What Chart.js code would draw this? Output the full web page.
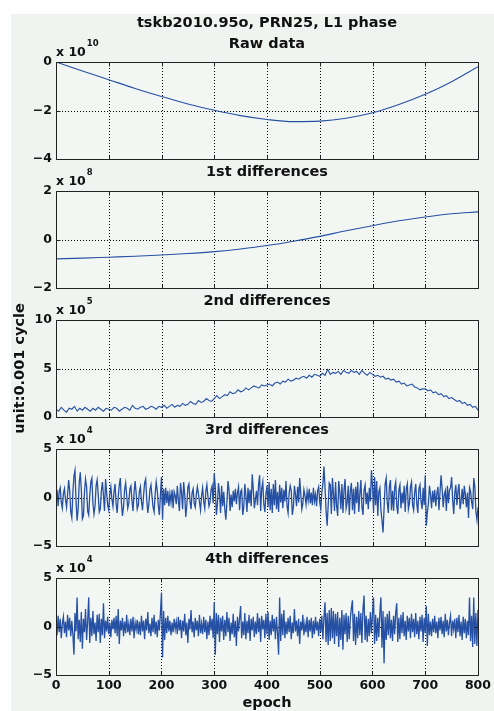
<!DOCTYPE html>
<html><head><meta charset="utf-8">
<script src="https://cdn.jsdelivr.net/npm/chart.js"></script>
<style>
html,body{margin:0;padding:0;background:#fff;width:494px;height:711px;overflow:hidden;}
#fig{position:absolute;left:11px;top:14px;width:483px;height:697px;background:#eff4f0;}
canvas{position:absolute;left:0;}
</style></head><body>
<div id="fig"></div>
<canvas id="c0"></canvas><canvas id="c1"></canvas><canvas id="c2"></canvas><canvas id="c3"></canvas><canvas id="c4"></canvas>
<script>
// ---------- data ----------
const epochTicks = [0,100,200,300,400,500,600,700,800];
const smoothEpochs = [0,50,100,150,200,250,300,350,400,450,500,550,600,650,700,750,800];
// Raw data, x 1e10
const rawData = [0,-0.37,-0.73,-1.09,-1.42,-1.73,-1.99,-2.21,-2.37,-2.46,-2.44,-2.32,-2.09,-1.75,-1.33,-0.81,-0.19];
// 1st differences, x 1e8
const diff1Data = [-0.80,-0.77,-0.73,-0.69,-0.64,-0.58,-0.50,-0.39,-0.25,-0.07,0.13,0.36,0.57,0.77,0.93,1.06,1.14];
// 2nd differences, x 1e5, one value every 5 epochs
const diff2Step = 5;
const diff2Data = [
0.8,0.6,1.0,0.7,0.5,0.9,0.8,1.1,0.6,0.9,0.7,1.0,0.8,0.6,0.9,0.7,1.0,0.8,0.6,0.9,
0.8,0.7,1.0,0.9,0.6,0.8,1.0,0.9,0.7,1.2,0.9,0.8,1.0,1.1,0.8,0.9,1.1,1.0,0.8,1.1,
1.0,1.2,0.9,1.1,1.3,1.0,1.2,1.1,1.4,1.2,1.3,1.6,1.4,1.3,1.7,1.5,1.6,1.9,1.7,1.6,
1.9,2.2,1.9,2.1,2.3,2.2,2.6,2.4,2.5,2.8,2.6,2.7,3.0,2.8,3.0,3.2,3.1,3.0,3.3,3.2,
3.3,3.4,3.2,3.5,3.6,3.4,3.7,3.6,3.9,3.7,3.8,4.0,3.9,4.1,4.2,4.0,4.3,4.1,4.4,4.3,
4.2,4.5,4.3,4.9,4.4,4.6,4.5,4.7,4.4,4.8,4.6,4.5,4.8,4.6,4.7,4.4,4.8,4.5,4.3,4.6,
4.4,4.2,4.3,4.1,4.2,3.9,4.0,3.8,3.9,3.6,3.7,3.4,3.5,3.2,3.3,3.4,3.1,3.0,2.8,2.9,
2.9,2.7,2.8,2.5,2.6,2.3,2.4,2.1,2.2,1.9,2.0,1.8,1.6,1.7,1.4,1.5,1.2,1.3,1.0,1.1,
0.7];
// 3rd and 4th differences, x 1e4, one value every 2 epochs
const noiseStep = 2;
const diff3Data = [
-0.3,0.8,-0.9,0.6,1.0,-0.5,-1.1,0.4,0.9,-0.2,-1.0,0.3,1.8,0.7,-1.5,-2.1,0.5,2.2,2.8,-0.4,
-2.4,-1.2,1.5,2.6,0.8,-2.2,-1.9,0.6,1.9,1.1,-1.4,-1.8,0.2,1.6,2.0,-0.6,-1.7,-0.9,1.2,1.8,
0.3,-1.5,-1.2,0.7,1.6,0.2,-1.4,1.9,0.5,-0.8,-1.3,0.4,1.1,-0.2,-0.9,0.6,1.4,-0.7,-1.6,0.1,
1.3,2.0,-0.5,-1.9,-1.0,0.8,1.5,0.2,-1.1,-0.6,0.9,1.2,-0.3,-1.4,0.5,1.7,0.4,-1.2,-0.8,0.6,
1.1,-0.4,-1.3,0.2,1.5,1.9,-0.2,-1.6,-0.7,0.8,1.3,0.1,-1.0,-1.5,0.4,1.6,0.7,-0.9,-1.8,0.3,
2.1,-2.3,0.9,-0.8,1.0,-0.6,0.7,-0.9,0.4,-0.5,0.8,-1.1,0.6,0.2,-0.7,1.2,-0.3,-1.4,1.5,0.5,
-1.2,1.6,0.3,-2.0,-0.8,1.1,1.4,-0.4,-1.2,0.5,0.9,-0.6,-1.0,0.3,1.1,0.4,-0.5,-1.3,0.2,1.0,
-0.4,-1.1,0.6,1.3,0.1,-0.9,-0.5,0.8,1.2,-0.6,2.5,1.0,-1.8,-0.7,1.5,0.4,-1.6,1.2,-0.9,0.6,
-1.2,-2.3,-0.5,1.7,0.8,-1.4,0.3,-1.0,0.7,-0.4,0.9,-0.7,0.5,1.1,-1.3,0.6,0.8,-1.8,-1.0,1.4,
0.2,-1.5,1.0,-0.6,0.8,-0.9,2.4,0.9,-1.1,-0.3,0.7,-0.8,1.3,2.3,-1.4,0.9,1.6,-0.7,-1.5,0.4,
1.2,-1.0,1.6,-1.3,0.9,-1.6,1.4,-0.8,1.8,-1.2,0.6,-1.5,1.3,-0.5,1.0,-1.1,0.8,-0.4,1.7,-0.9,
-1.6,0.5,1.2,0.7,-1.8,-1.0,1.2,0.3,-0.9,1.1,-0.5,2.0,0.4,-1.2,-0.6,0.8,0.2,-0.7,0.6,-0.3,
0.9,-0.6,0.5,-0.8,1.0,-0.4,0.3,-0.9,0.7,1.1,-0.5,-1.2,0.6,1.4,3.2,1.0,-1.4,-2.9,-0.8,1.5,
1.3,-1.7,2.0,0.4,-1.4,1.6,-0.9,-1.9,1.7,0.6,-1.2,1.4,-1.6,0.8,1.9,-1.1,-0.5,1.2,-1.8,0.7,
1.5,-1.3,0.9,-1.7,1.1,-0.6,1.6,-1.5,0.4,1.8,-1.0,-1.8,0.8,1.3,-0.7,0.5,-1.2,1.0,-0.4,2.8,
1.2,-1.5,2.1,-0.8,1.7,-1.9,0.6,1.0,-1.3,-2.4,-3.6,-1.0,1.4,2.0,-0.5,-1.6,1.1,1.8,-1.3,0.7,
-1.4,1.0,1.6,-0.9,-1.7,0.8,1.3,-1.1,0.5,-0.6,1.2,-1.5,0.9,1.4,-1.2,-0.6,1.1,1.6,-0.8,-1.3,
0.6,1.4,-0.7,-1.6,0.9,1.3,-0.4,-1.2,1.0,-0.8,2.3,-2.9,-1.5,-0.6,1.2,0.3,-1.1,0.7,-0.5,0.8,
-0.9,0.4,1.1,-1.3,0.6,2.3,0.9,-1.0,0.3,0.7,-1.4,1.2,-0.6,0.8,1.0,2.1,-0.3,-1.7,0.5,1.3,
-0.8,0.6,1.4,-1.2,-0.4,0.9,-0.7,1.2,0.3,-1.0,0.5,-2.1,1.0,0.6,-0.5,-1.2,2.0,1.1,-1.4,-2.3,
-1.0];
const diff4Data = [
0.4,-0.9,1.1,-0.6,0.8,-1.2,0.3,1.0,-0.7,0.5,-1.1,1.2,-0.4,0.9,-1.0,0.6,-0.8,-2.9,1.4,-0.5,
3.0,-1.3,0.7,-1.6,1.5,-2.3,0.8,-0.6,1.8,-1.4,0.5,3.0,-1.7,0.9,-1.0,1.6,-0.8,0.4,-1.5,1.2,
-0.6,1.3,-1.7,0.8,-0.9,2.4,-1.2,0.6,-0.5,1.0,-0.8,0.4,-1.1,0.7,-0.3,0.9,-0.7,1.1,-1.0,1.8,
-1.8,0.6,-0.4,0.9,-1.0,0.5,-0.7,1.2,-0.6,0.3,-0.9,0.8,-0.5,1.0,-1.2,0.4,-0.3,0.7,-0.8,0.5,
-0.9,1.1,-0.5,0.6,-1.3,0.8,-0.4,1.5,-0.7,0.3,-1.0,0.9,-0.6,1.2,-0.8,0.5,-1.1,0.7,-0.4,1.4,
3.5,-3.2,1.6,-1.4,0.9,-0.7,1.1,-0.5,0.6,-0.9,0.4,-0.6,0.8,-0.3,0.5,-0.8,1.0,-0.4,0.7,-1.2,
0.6,-0.5,1.3,-0.9,0.4,-1.7,0.8,-0.3,1.7,-0.6,0.5,-1.1,0.9,-0.4,0.6,-1.0,1.2,-0.7,0.3,-0.8,
1.0,-0.6,0.7,-1.3,0.5,-0.9,1.1,-0.4,0.8,-1.2,2.5,-2.9,1.4,-0.8,1.2,-1.6,0.9,-0.5,1.1,-1.4,
0.7,-1.0,1.5,-0.6,0.9,-1.5,0.4,-0.8,1.3,-1.1,0.6,-2.0,1.0,-0.5,0.8,2.1,-1.2,0.5,-0.9,1.4,
-1.3,0.6,-0.7,1.2,-1.5,0.8,-0.4,1.0,-1.1,0.5,-0.8,1.4,-0.6,0.9,-1.6,1.1,-0.3,0.7,-1.2,1.3,
-0.8,1.5,-1.4,0.6,-0.9,1.2,-0.5,0.8,-1.3,1.0,-0.6,-2.9,3.0,-1.5,1.3,-0.9,1.7,-1.2,0.5,-0.8,
0.9,-0.6,1.1,-1.3,0.4,-0.7,1.8,-0.5,0.6,-1.0,0.8,-1.8,0.5,-0.4,1.2,-0.9,0.3,-0.6,1.0,-1.1,
0.7,-0.5,0.9,-1.2,0.6,-0.8,1.0,-0.4,0.5,-1.0,0.8,-0.6,1.1,-1.3,0.9,2.5,-1.6,1.4,-1.9,1.7,
-1.5,1.9,-1.2,1.6,-1.8,1.3,-1.0,1.5,-2.1,0.9,-1.4,1.7,-2.4,1.2,-0.8,1.4,-1.6,1.1,-1.3,0.8,
1.9,2.7,-1.5,1.3,-1.9,1.0,-1.2,1.6,-0.9,1.4,-1.7,1.8,3.2,-1.4,1.1,-1.6,0.8,-1.0,1.5,-0.7,
1.3,3.0,-1.8,1.2,-1.5,0.9,-1.1,1.4,3.0,-2.2,1.6,-3.8,1.0,-1.4,1.3,-0.9,1.6,-1.2,0.7,-1.5,
1.1,-0.8,1.4,2.4,-1.6,0.9,-1.3,1.2,-0.7,1.5,-1.0,0.6,-1.4,1.1,-0.5,0.9,-1.2,1.3,-0.6,0.8,
-1.1,1.4,-0.8,0.6,-1.3,1.0,-0.5,1.2,-1.6,0.9,-0.7,2.1,-2.0,1.3,-0.9,0.5,-1.0,0.8,-0.6,1.1,
-0.7,0.5,-1.2,0.9,-0.4,1.0,-0.8,0.6,-1.1,1.3,-0.5,0.7,-0.9,0.4,1.1,-1.0,0.6,-0.3,0.8,-1.2,
0.9,-0.6,1.2,-1.0,0.5,-1.4,1.0,-0.7,0.8,-1.2,0.6,-0.9,3.0,-1.5,1.1,-2.1,3.0,-1.8,1.4,-2.0,
1.7];

const panelTitles = [['tskb2010.95o, PRN25, L1 phase','Raw data'],'1st differences','2nd differences','3rd differences','4th differences'];
const exponents = ['10','8','5','4','4'];
const yMins = [-4,-2,0,-5,-5];
const yMaxs = [0,2,10,5,5];
const ySteps = [2,2,5,5,5];
const yAxisLabel = 'unit:0.001 cycle';
const xAxisLabel = 'epoch';

// ---------- series ----------
const series = [
  rawData.map((v,i)=>({x:smoothEpochs[i],y:v})),
  diff1Data.map((v,i)=>({x:smoothEpochs[i],y:v})),
  diff2Data.map((v,i)=>({x:i*diff2Step,y:v})),
  diff3Data.map((v,i)=>({x:i*noiseStep,y:v})),
  diff4Data.map((v,i)=>({x:i*noiseStep,y:v}))
];

// ---------- layout ----------
const FONT = 'DejaVu Sans';
const INK = '#111';
const LINE = '#2650a3';
const PLOT_BG = '#f3f7f4';
const plotTops = [62,191,320,449,578];
const plotH = 97;
const headRoom = 62;
const lineWidths = [1.1,1.1,1.1,1.3,1.3];

Chart.defaults.font.family = FONT;
Chart.defaults.color = INK;

const fmt = v => (v < 0 ? '\u2212' + Math.abs(v) : String(v));

const framePlugin = {
  id: 'frame',
  beforeDraw(chart) {
    const {ctx, chartArea: a} = chart;
    ctx.save();
    ctx.fillStyle = PLOT_BG;
    ctx.fillRect(a.left, a.top, a.right - a.left, a.bottom - a.top);
    ctx.restore();
  },
  beforeDatasetsDraw(chart) {
    const {ctx, chartArea: a, scales: {x, y}} = chart;
    ctx.save();
    ctx.strokeStyle = '#000';
    ctx.lineWidth = 1;
    ctx.setLineDash([1, 2]);
    ctx.beginPath();
    epochTicks.forEach(v => {
      if (v > x.min && v < x.max) {
        const px = Math.round(x.getPixelForValue(v)) + 0.5;
        ctx.moveTo(px, a.top); ctx.lineTo(px, a.bottom);
      }
    });
    y.ticks.forEach(t => {
      if (t.value > y.min && t.value < y.max) {
        const py = Math.round(y.getPixelForValue(t.value)) + 0.5;
        ctx.moveTo(a.left, py); ctx.lineTo(a.right, py);
      }
    });
    ctx.stroke();
    ctx.restore();
  },
  afterDatasetsDraw(chart, args, o) {
    const {ctx, chartArea: a, scales: {x, y}} = chart;
    const L = Math.round(a.left) + 0.5, R = Math.round(a.right) + 0.5;
    const T = Math.round(a.top) + 0.5, B = Math.round(a.bottom) + 0.5;
    ctx.save();
    ctx.strokeStyle = '#222';
    ctx.lineWidth = 1;
    ctx.beginPath();
    ctx.rect(L, T, R - L, B - T);
    epochTicks.forEach(v => {
      const px = Math.round(x.getPixelForValue(v)) + 0.5;
      ctx.moveTo(px, T); ctx.lineTo(px, T + 4);
      ctx.moveTo(px, B); ctx.lineTo(px, B - 4);
    });
    y.ticks.forEach(t => {
      const py = Math.round(y.getPixelForValue(t.value)) + 0.5;
      ctx.moveTo(L, py); ctx.lineTo(L + 4, py);
      ctx.moveTo(R, py); ctx.lineTo(R - 4, py);
    });
    ctx.stroke();
    // exponent label
    ctx.fillStyle = INK;
    ctx.textAlign = 'left';
    ctx.textBaseline = 'middle';
    ctx.font = 'bold 12.5px "' + FONT + '"';
    const base = 'x 10';
    ctx.fillText(base, a.left, a.top - 9);
    const w = ctx.measureText(base).width;
    ctx.font = 'bold 8.5px "' + FONT + '"';
    ctx.fillText(o.exp, a.left + w + 1, a.top - 18);
    ctx.restore();
  }
};

series.forEach((data, i) => {
  const last = i === series.length - 1;
  const cv = document.getElementById('c' + i);
  const bottomRoom = last ? 36 : 40;
  cv.width = 494;
  cv.height = headRoom + plotH + bottomRoom;
  cv.style.top = (plotTops[i] - headRoom) + 'px';
  const multi = Array.isArray(panelTitles[i]);
  const titleLH = multi ? 21 : 17;
  const titlePadB = multi ? 7.5 : 10;
  const nLines = multi ? panelTitles[i].length : 1;
  const padTop = headRoom - (titleLH * nLines + titlePadB);

  new Chart(cv, {
    type: 'line',
    data: { datasets: [{ data, borderColor: LINE, borderWidth: lineWidths[i], pointRadius: 0,
      cubicInterpolationMode: i < 2 ? 'monotone' : 'default', tension: 0, fill: false }] },
    options: {
      responsive: false, animation: false, events: [],
      layout: { padding: { left: 0, right: 16, top: padTop, bottom: last ? 0 : bottomRoom } },
      plugins: {
        legend: { display: false }, tooltip: { enabled: false },
        title: { display: true, text: panelTitles[i], fullSize: false, color: INK,
          font: { size: 14.5, weight: 'bold', lineHeight: titleLH + 'px' },
          padding: { top: 0, bottom: titlePadB } },
        frame: { exp: exponents[i] }
      },
      scales: {
        x: {
          type: 'linear', min: 0, max: 800, display: last,
          afterFit: s => { s.height = last ? 36 : 0; },
          grid: { display: false, drawTicks: false }, border: { display: false },
          ticks: { stepSize: 100, autoSkip: false, maxRotation: 0, padding: 3, color: INK,
            font: { size: 12.5, weight: 'bold' } },
          title: { display: last, text: xAxisLabel, color: INK, padding: { top: 0, bottom: 0 },
            font: { size: 14.5, weight: 'bold', lineHeight: '16px' } }
        },
        y: {
          min: yMins[i], max: yMaxs[i],
          afterFit: s => { s.width = 56; },
          grid: { display: false, drawTicks: false }, border: { display: false },
          ticks: { stepSize: ySteps[i], autoSkip: false, padding: 4, color: INK,
            font: { size: 12.5, weight: 'bold' }, callback: v => fmt(v) },
          title: { display: i === 2, text: yAxisLabel, color: INK, padding: { top: 11.3, bottom: 0 },
            font: { size: 14.5, weight: 'bold', lineHeight: 1.2 } }
        }
      }
    },
    plugins: [framePlugin]
  });
});
</script>
</body></html>
